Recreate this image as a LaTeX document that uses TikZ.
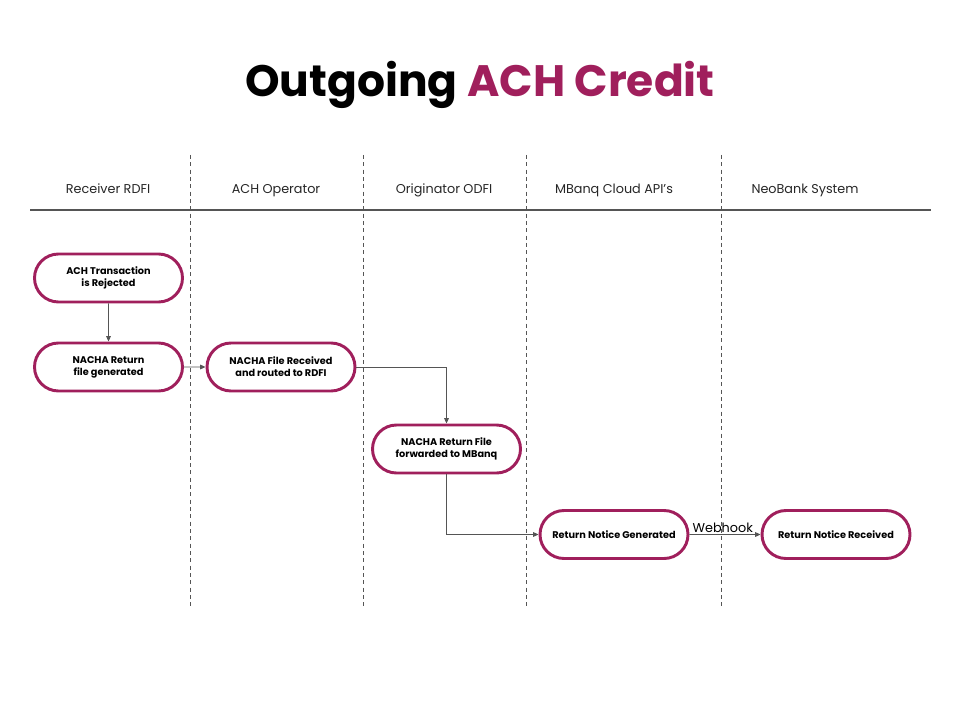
\documentclass[tikz,border=0pt]{standalone}
\usepackage{fontspec}
\setmainfont{Poppins}
\usetikzlibrary{shapes.misc,arrows.meta}
\definecolor{achred}{HTML}{A01F5C}
\definecolor{flowgray}{HTML}{555555}
\def\lanetop{155}
\def\lanebot{607}

\begin{document}
\begin{tikzpicture}[x=0.75pt,y=-0.75pt,>={Triangle[length=4pt,width=3.5pt]}]
    \tikzstyle{step node}=[rounded rectangle,draw=achred,line width=2.2pt,fill=white,
        minimum width=111pt,minimum height=36pt,inner sep=0pt,align=center,
        font=\fontsize{7.3}{9}\selectfont\bfseries]
    \tikzstyle{lane}=[draw=flowgray,dashed,line width=0.6pt,dash pattern=on 3pt off 2.5pt]
    \tikzstyle{lane label}=[font=\fontsize{9.6}{11}\selectfont,text=black!85,anchor=base]
    \tikzstyle{flow}=[->,draw=flowgray,line width=0.7pt]

    \useasboundingbox (0,0) rectangle (960,720);

    % Title
    \node[font=\fontsize{33}{38}\selectfont\bfseries] (title) at (480,85)
        {Outgoing \textcolor{achred}{ACH Credit}};

    % Draw the lane separators.
    \foreach \name / \x in {1/190,2/363,3/526,4/721}
        \draw[lane] (\x,\lanetop) coordinate (L-\name) -- (\x,\lanebot);
    \draw[draw=flowgray,line width=0.8pt] (30,210) -- (931,210);

    % Lane headers.
    \foreach \name / \x / \txt in {1/108/Receiver RDFI,2/276/ACH Operator,
            3/444/Originator ODFI,4/614/MBanq Cloud API’s,5/805/NeoBank System}
        \node[lane label] (H-\name) at (\x,194) {\txt};

    % Draw the steps.
    \node[step node] (rejected) at (108.5,278) {ACH Transaction\\is Rejected};
    \node[step node] (returnfile) at (108.5,367) {NACHA Return\\file generated};
    \node[step node] (received) at (281,367) {NACHA File Received\\and routed to RDFI};
    \node[step node] (forwarded) at (446.5,449) {NACHA Return File\\forwarded to MBanq};
    \node[step node] (generated) at (614,534.5) {Return Notice Generated};
    \node[step node] (noticercv) at (836,534.5) {Return Notice Received};

    % Connect the steps.
    \draw[flow] (rejected) -- (returnfile);
    \draw[flow] (returnfile) -- (received);
    \draw[flow] (received.east) -| (forwarded.north);
    \draw[flow] (forwarded.south) |- (generated.west);
    \draw[flow] (generated) -- node[pos=0,anchor=south west,inner sep=1pt,xshift=1pt,
        font=\fontsize{9.6}{11}\selectfont] {Webhook} (noticercv);
\end{tikzpicture}
\end{document}
